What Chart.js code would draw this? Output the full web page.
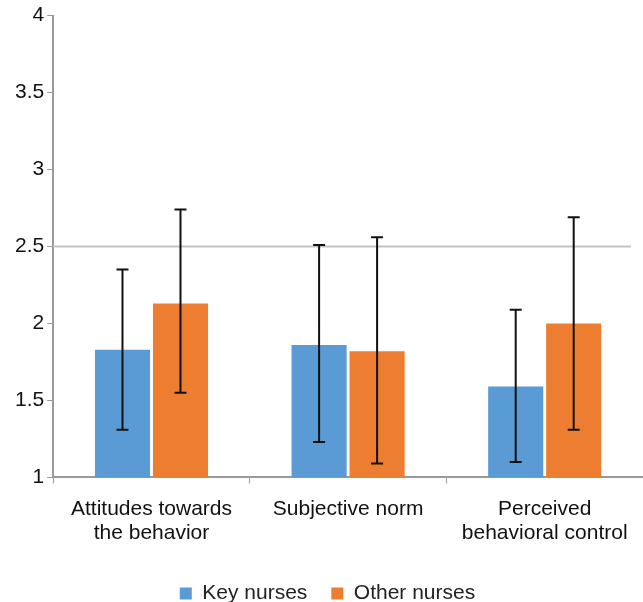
<!DOCTYPE html>
<html>
<head>
<meta charset="utf-8">
<script src="https://cdn.jsdelivr.net/npm/chart.js@4.4.0/dist/chart.umd.min.js"></script>
<style>
  html, body { margin: 0; padding: 0; background: #fff; }
  #wrap { width: 643px; height: 602px; }
</style>
</head>
<body>
<div id="wrap"><canvas id="myChart" width="643" height="602"></canvas></div>
<script>
const categories = [["Attitudes towards", "the behavior"], "Subjective norm", ["Perceived", "behavioral control"]];
const seriesNames = ["Key nurses", "Other nurses"];
const keyMeans = [1.83, 1.86, 1.59];
const otherMeans = [2.13, 1.82, 2.0];
const keyLow = [1.31, 1.23, 1.10];
const keyHigh = [2.35, 2.51, 2.09];
const otherLow = [1.55, 1.09, 1.31];
const otherHigh = [2.74, 2.56, 2.69];
const yTicks = [1, 1.5, 2, 2.5, 3, 3.5, 4];
const refValue = 2.5;

const fontFamily = "Liberation Sans, Arial, Helvetica, sans-serif";

// error bars drawn on top of bars
const errorBars = {
  id: "errorBars",
  afterDatasetsDraw(chart) {
    const ctx = chart.ctx;
    const y = chart.scales.y;
    const ranges = [[keyLow, keyHigh], [otherLow, otherHigh]];
    ctx.save();
    ctx.strokeStyle = "#111";
    ctx.lineWidth = 2;
    ranges.forEach((r, di) => {
      chart.getDatasetMeta(di).data.forEach((bar, i) => {
        const top = y.getPixelForValue(r[1][i]);
        const bot = y.getPixelForValue(r[0][i]);
        ctx.beginPath();
        ctx.moveTo(bar.x, top);
        ctx.lineTo(bar.x, bot);
        ctx.moveTo(bar.x - 6, top);
        ctx.lineTo(bar.x + 6, top);
        ctx.moveTo(bar.x - 6, bot);
        ctx.lineTo(bar.x + 6, bot);
        ctx.stroke();
      });
    });
    ctx.restore();
  }
};

// gray reference line at 2.5
const refLine = {
  id: "refLine",
  beforeDatasetsDraw(chart) {
    const ctx = chart.ctx;
    const a = chart.chartArea;
    const py = chart.scales.y.getPixelForValue(refValue);
    ctx.save();
    ctx.strokeStyle = "#c4c4c4";
    ctx.lineWidth = 2;
    ctx.beginPath();
    ctx.moveTo(a.left, py);
    ctx.lineTo(a.right - 12, py);
    ctx.stroke();
    ctx.restore();
  }
};

const ctx = document.getElementById("myChart").getContext("2d");
const myChart = new Chart(ctx, {
  type: "bar",
  data: {
    labels: categories,
    datasets: [
      {
        label: seriesNames[0],
        data: keyMeans,
        backgroundColor: "#5b9bd5",
        categoryPercentage: 0.59,
        barPercentage: 0.95,
      },
      {
        label: seriesNames[1],
        data: otherMeans,
        backgroundColor: "#ed7d31",
        categoryPercentage: 0.59,
        barPercentage: 0.95,
      },
    ],
  },
  options: {
    responsive: false,
    animation: false,
    layout: { padding: { top: 6, right: 0, left: 12, bottom: -12 } },
    plugins: {
      legend: {
        position: "bottom",
        labels: {
          boxWidth: 12,
          boxHeight: 12,
          color: "#222",
          font: { family: fontFamily, size: 21 },
          padding: 24,
        },
      },
      tooltip: { enabled: false },
    },
    scales: {
      x: {
        grid: { drawOnChartArea: false, color: "#999", tickLength: 6 },
        border: { color: "#999", width: 2 },
        ticks: {
          color: "#111",
          font: { family: fontFamily, size: 21, lineHeight: 1.18 },
          maxRotation: 0,
          padding: 13,
        },
      },
      y: {
        min: 1,
        max: 4,
        afterBuildTicks(scale) {
          scale.ticks = yTicks.map(v => ({ value: v }));
        },
        grid: { drawOnChartArea: false, color: "#999", tickLength: 6 },
        border: { color: "#999", width: 2 },
        ticks: {
          color: "#111",
          font: { family: fontFamily, size: 21 },
          padding: 3,
          callback: v => String(v),
        },
      },
    },
  },
  plugins: [refLine, errorBars],
});
</script>
</body>
</html>
